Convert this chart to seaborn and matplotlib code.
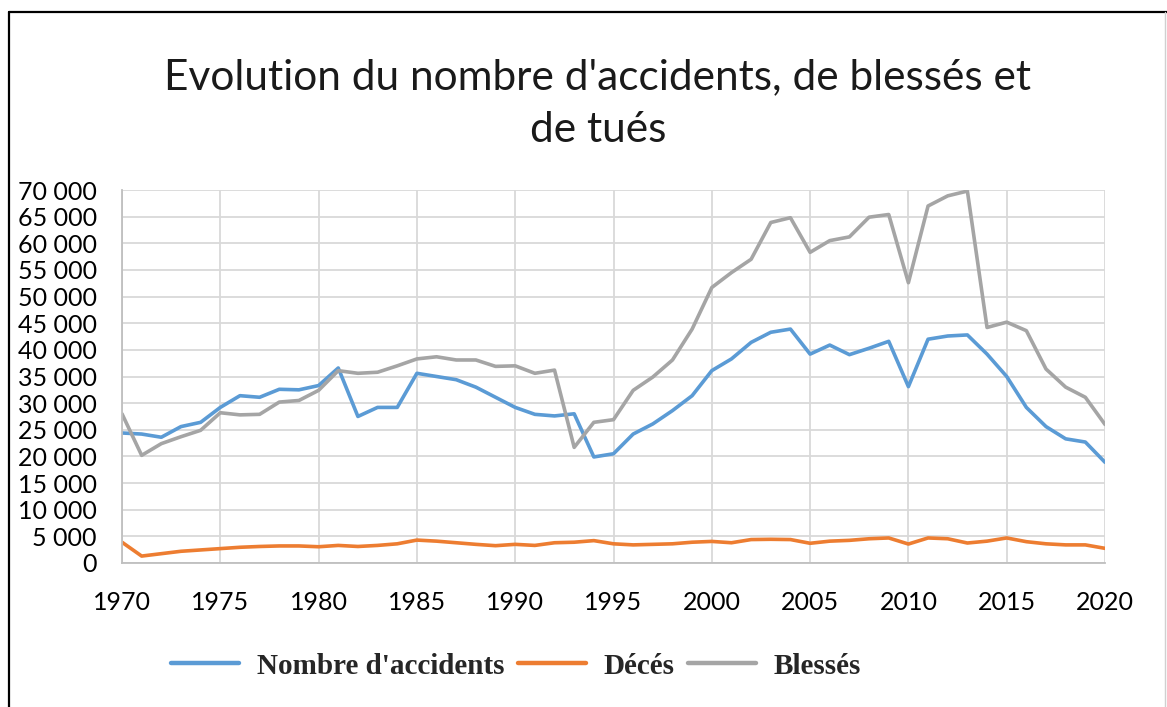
import matplotlib
matplotlib.use("Agg")
import matplotlib.pyplot as plt
import matplotlib.ticker as mticker
from matplotlib.lines import Line2D
import seaborn as sns
import pandas as pd

years = list(range(1970, 2021))
accidents = [24400, 24200, 23600, 25600, 26400, 29200, 31400, 31100, 32600, 32500,
             33300, 36600, 27500, 29200, 29200, 35600, 35000, 34400, 33000, 31100,
             29200, 27900, 27600, 28000, 19900, 20500, 24200, 26100, 28600, 31400,
             36100, 38300, 41400, 43300, 43900, 39200, 40900, 39100, 40300, 41600,
             33100, 42000, 42600, 42800, 39200, 35000, 29200, 25600, 23300, 22700,
             18900]
deces = [3900, 1300, 1750, 2200, 2450, 2700, 2950, 3100, 3200, 3200,
         3050, 3300, 3100, 3300, 3600, 4300, 4100, 3800, 3500, 3250,
         3500, 3300, 3800, 3900, 4200, 3600, 3400, 3500, 3600, 3900,
         4050, 3800, 4400, 4450, 4400, 3700, 4100, 4250, 4550, 4700,
         3560, 4700, 4550, 3750, 4100, 4700, 4000, 3600, 3400, 3400,
         2750]
blesses = [28000, 20200, 22400, 23700, 24900, 28200, 27800, 27900, 30200, 30500,
           32400, 36100, 35600, 35800, 37000, 38300, 38700, 38100, 38100, 36900,
           37000, 35600, 36200, 21700, 26400, 26900, 32400, 34900, 38100, 43900,
           51700, 54500, 57000, 63900, 64800, 58300, 60500, 61200, 64900, 65400,
           52600, 67000, 68900, 69800, 44200, 45200, 43600, 36400, 33000, 31100,
           26000]
series_names = ["Nombre d'accidents", "Décés", "Blessés"]
colors = ["#5B9BD5", "#ED7D31", "#A5A5A5"]
title = "Evolution du nombre d'accidents, de blessés et\nde tués"

df = pd.DataFrame({
    "Année": years * 3,
    "Valeur": accidents + deces + blesses,
    "Série": [series_names[0]] * len(years) + [series_names[1]] * len(years) + [series_names[2]] * len(years),
})

sns.set_theme(style="white")
plt.rcParams["font.family"] = ["Lato", "DejaVu Sans"]

fig = plt.figure(figsize=(11.67, 7.07), dpi=100)
ax = fig.add_axes([122 / 1167, 1 - 563 / 707, (1105 - 122) / 1167, (563 - 190) / 707])

sns.lineplot(data=df, x="Année", y="Valeur", hue="Série", hue_order=series_names,
             palette=colors, linewidth=2.6, ax=ax, legend=False,
             solid_joinstyle="round", solid_capstyle="round")

ax.set_xlim(1970, 2020)
ax.set_ylim(0, 70000)
ax.set_xticks(range(1970, 2021, 5))
ax.set_yticks(range(0, 70001, 5000))
ax.yaxis.set_major_formatter(mticker.FuncFormatter(lambda v, p: f"{int(v):,}".replace(",", " ")))
ax.set_xlabel("")
ax.set_ylabel("")
ax.grid(True, color="#D9D9D9", linewidth=1.3)
ax.set_axisbelow(True)
for s in ["top", "right"]:
    ax.spines[s].set_visible(False)
for s in ["left", "bottom"]:
    ax.spines[s].set_color("#BFBFBF")
    ax.spines[s].set_linewidth(1.3)
ax.tick_params(axis="y", labelsize=18, pad=18, length=0, colors="#000000")
ax.tick_params(axis="x", labelsize=18, pad=20, length=0, colors="#000000")

fig.text(598 / 1167, 1 - 104 / 707, title, ha="center", va="center",
         fontsize=30.5, fontweight="normal", linespacing=1.48, color="#1a1a1a")

handles = [Line2D([0], [0], color=c, lw=3.2) for c in colors]
fig.legend(handles, series_names, loc="center", bbox_to_anchor=(516 / 1167, 1 - 666 / 707),
           ncol=3, frameon=False, handlelength=2.35, handletextpad=0.6, columnspacing=0.45,
           prop={"family": "Liberation Serif", "weight": "bold", "size": 21})

fig.add_artist(Line2D([9 / 1167, 9 / 1167], [0, 1 - 12 / 707], transform=fig.transFigure,
                      color="black", lw=1.6))
fig.add_artist(Line2D([9 / 1167, 1], [1 - 12 / 707, 1 - 12 / 707], transform=fig.transFigure,
                      color="black", lw=1.6))
fig.add_artist(Line2D([1165 / 1167, 1165 / 1167], [0, 1 - 12 / 707], transform=fig.transFigure,
                      color="#D0D0D0", lw=1.0))

fig.savefig("out.png", dpi=100, facecolor="white")
